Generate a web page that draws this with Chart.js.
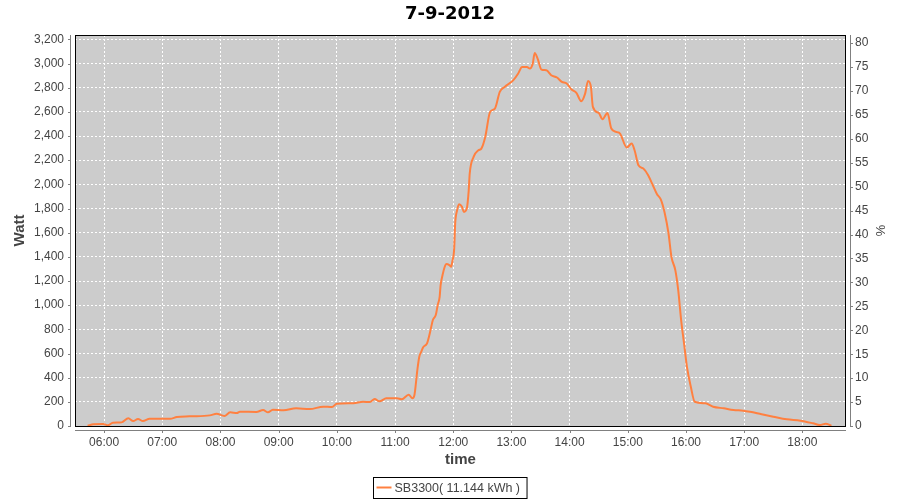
<!DOCTYPE html>
<html>
<head>
<meta charset="utf-8">
<script src="https://cdn.jsdelivr.net/npm/chart.js@4"></script>
<style>
  body { margin: 0; background: #fff; }
  #chart { display: block; }
</style>
</head>
<body>
<canvas id="chart" width="900" height="500"></canvas>
<script>
// readings of the SB3300 inverter, 7-9-2012
const times = [
  '05:43', '05:49', '05:59', '06:04', '06:09', '06:18', '06:25', '06:30', '06:35', '06:40',
  '06:47', '07:08', '07:15', '07:28', '07:49', '07:56', '08:04', '08:10', '08:17', '08:20',
  '08:37', '08:44', '08:49', '08:54', '09:05', '09:18', '09:32', '09:46', '09:55', '10:00',
  '10:17', '10:27', '10:34', '10:39', '10:44', '10:51', '11:02', '11:07', '11:14', '11:18',
  '11:20', '11:23', '11:25', '11:27', '11:29', '11:33', '11:35', '11:37', '11:39', '11:42',
  '11:44', '11:46', '11:47', '11:49', '11:51', '11:53', '11:56', '11:58', '11:59', '12:01',
  '12:02', '12:04', '12:06', '12:09', '12:11', '12:14', '12:16', '12:17', '12:21', '12:26',
  '12:29', '12:33', '12:38', '12:43', '12:48', '12:53', '13:02', '13:07', '13:11', '13:16',
  '13:19', '13:22', '13:24', '13:27', '13:31', '13:36', '13:41', '13:47', '13:52', '13:57',
  '14:02', '14:07', '14:12', '14:16', '14:19', '14:22', '14:24', '14:30', '14:34', '14:39',
  '14:43', '14:48', '14:52', '14:59', '15:04', '15:07', '15:11', '15:16', '15:21', '15:25',
  '15:30', '15:34', '15:38', '15:42', '15:45', '15:49', '15:52', '15:55', '15:58', '16:01',
  '16:05', '16:09', '16:20', '16:28', '16:39', '16:49', '16:59', '17:06', '17:18', '17:30',
  '17:44', '17:58', '18:11', '18:18', '18:24', '18:30'
]
const watts = [
  2, 14, 17, 6, 27, 30, 64, 41, 58, 41,
  60, 60, 74, 80, 88, 101, 83, 113, 107, 118,
  116, 132, 113, 135, 130, 146, 140, 160, 157, 184,
  188, 201, 198, 223, 204, 229, 229, 221, 259, 229,
  256, 463, 573, 614, 651, 684, 739, 808, 877, 918,
  1001, 1069, 1166, 1249, 1312, 1340, 1332, 1318, 1359, 1470,
  1676, 1786, 1836, 1814, 1772, 1800, 1952, 2089, 2227, 2282,
  2296, 2392, 2599, 2627, 2765, 2806, 2862, 2917, 2972, 2972,
  2958, 2999, 3088, 3041, 2950, 2944, 2903, 2884, 2848, 2834,
  2785, 2757, 2688, 2751, 2856, 2806, 2641, 2591, 2539, 2591,
  2462, 2434, 2420, 2305, 2338, 2282, 2158, 2131, 2076, 2007,
  1920, 1875, 1765, 1593, 1400, 1290, 1125, 877, 684, 490,
  325, 201, 188, 160, 146, 132, 127, 118, 97, 77,
  55, 44, 22, 8, 19, 2
]
const seriesLabel = 'SB3300( 11.144 kWh )'
const hourTicks = ['06:00', '07:00', '08:00', '09:00', '10:00', '11:00', '12:00',
  '13:00', '14:00', '15:00', '16:00', '17:00', '18:00']
const wattTicks = [0, 200, 400, 600, 800, 1000, 1200, 1400, 1600, 1800, 2000,
  2200, 2400, 2600, 2800, 3000, 3200]
const percentTicks = [0, 5, 10, 15, 20, 25, 30, 35, 40, 45, 50, 55, 60, 65, 70, 75, 80]

const toMinutes = (t) => {
  const [h, m] = t.split(':').map(Number)
  return h * 60 + m
}
const fmtTime = (v) => {
  const h = Math.floor(v / 60), m = Math.round(v % 60)
  return String(h).padStart(2, '0') + ':' + String(m).padStart(2, '0')
}

const ORANGE = '#ff8040'
const tickFont = {family: 'Liberation Sans', size: 12}
const titleFont = {family: 'Liberation Sans', size: 15, weight: 'bold'}

const setTicks = (values) => (scale) => {
  scale.ticks = values.map(v => ({value: v}))
}

// grey plot background, black frame, offset axis lines and the boxed legend
const plotDecor = {
  id: 'plotDecor',
  beforeDraw(chart) {
    const {ctx, chartArea: a} = chart
    ctx.save()
    ctx.fillStyle = '#cccccc'
    ctx.fillRect(a.left, a.top, a.right - a.left, a.bottom - a.top)
    ctx.restore()
  },
  afterDraw(chart) {
    const {ctx, chartArea: a, scales} = chart
    ctx.save()
    ctx.strokeStyle = '#000'
    ctx.lineWidth = 1
    ctx.strokeRect(a.left + 0.5, a.top + 0.5, a.right - a.left - 1, a.bottom - a.top)

    ctx.strokeStyle = '#808080'
    ctx.beginPath()
    // left axis
    ctx.moveTo(a.left - 4.5, a.top); ctx.lineTo(a.left - 4.5, a.bottom)
    scales.y.ticks.forEach(t => {
      const p = Math.round(scales.y.getPixelForValue(t.value)) + 0.5
      ctx.moveTo(a.left - 7, p); ctx.lineTo(a.left - 4, p)
    })
    // right axis
    ctx.moveTo(a.right + 4.5, a.top); ctx.lineTo(a.right + 4.5, a.bottom)
    scales.y1.ticks.forEach(t => {
      const p = Math.round(scales.y1.getPixelForValue(t.value)) + 0.5
      ctx.moveTo(a.right + 4, p); ctx.lineTo(a.right + 7, p)
    })
    // bottom axis
    ctx.moveTo(a.left, a.bottom + 4.5); ctx.lineTo(a.right, a.bottom + 4.5)
    scales.x.ticks.forEach(t => {
      const p = Math.round(scales.x.getPixelForValue(t.value)) + 0.5
      ctx.moveTo(p, a.bottom + 4); ctx.lineTo(p, a.bottom + 7)
    })
    ctx.stroke()

    // legend
    const ds = chart.data.datasets[0]
    ctx.font = '12.5px "Liberation Sans"'
    const tw = ctx.measureText(ds.label).width
    const boxW = tw + 28, boxH = 21
    const bx = Math.round(chart.width / 2 - boxW / 2) + 0.5, by = 477.5
    ctx.strokeStyle = '#000'
    ctx.strokeRect(bx, by, boxW, boxH)
    ctx.strokeStyle = ds.borderColor
    ctx.lineWidth = 2
    ctx.beginPath()
    ctx.moveTo(bx + 3, by + 10); ctx.lineTo(bx + 18, by + 10)
    ctx.stroke()
    ctx.fillStyle = '#444'
    ctx.textBaseline = 'middle'
    ctx.fillText(ds.label, bx + 21, by + 11)
    ctx.restore()
  }
}

new Chart(document.getElementById('chart'), {
  type: 'line',
  data: {
    datasets: [{
      label: seriesLabel,
      data: times.map((t, i) => ({x: toMinutes(t), y: watts[i]})),
      borderColor: ORANGE,
      backgroundColor: ORANGE,
      borderWidth: 2,
      pointRadius: 0,
      cubicInterpolationMode: 'monotone',
      yAxisID: 'y'
    }]
  },
  options: {
    responsive: false,
    animation: false,
    devicePixelRatio: 1,
    layout: {padding: {top: 0, left: 0, right: 0, bottom: 30}},
    plugins: {
      legend: {display: false},
      tooltip: {enabled: false},
      title: {
        display: true,
        text: '7-9-2012',
        color: '#000',
        font: {family: 'DejaVu Sans', size: 18, weight: 'bold'},
        padding: {top: 4, bottom: 9.4}
      }
    },
    scales: {
      x: {
        type: 'linear',
        min: 330,
        max: 1125,
        afterBuildTicks: setTicks(hourTicks.map(toMinutes)),
        afterFit: (s) => { s.height = 44 },
        ticks: {color: '#444', font: tickFont, padding: 9, maxRotation: 0, callback: (v) => fmtTime(v)},
        grid: {color: '#ffffff', drawTicks: false},
        border: {display: false, dash: [2, 2]},
        title: {display: true, text: 'time', color: '#444', font: titleFont, padding: {top: 0, bottom: 1}}
      },
      y: {
        position: 'left',
        min: 0,
        max: 3236,
        afterBuildTicks: setTicks(wattTicks),
        afterFit: (s) => { s.width = 75 },
        ticks: {color: '#444', font: tickFont, padding: 11, callback: (v) => v.toLocaleString('en-US')},
        grid: {color: '#ffffff', drawTicks: false},
        border: {display: false, dash: [2, 2]},
        title: {display: true, text: 'Watt', color: '#444', font: titleFont, padding: {top: 11, bottom: 0}}
      },
      y1: {
        position: 'right',
        min: 0,
        max: 81.7,
        afterBuildTicks: setTicks(percentTicks),
        afterFit: (s) => { s.width = 54 },
        ticks: {color: '#444', font: tickFont, padding: 9},
        grid: {display: false, drawTicks: false},
        border: {display: false},
        title: {display: true, text: '%', color: '#444', font: {family: 'Liberation Sans', size: 13}, padding: {top: 13, bottom: 0}}
      }
    }
  },
  plugins: [plotDecor]
})
</script>
</body>
</html>
